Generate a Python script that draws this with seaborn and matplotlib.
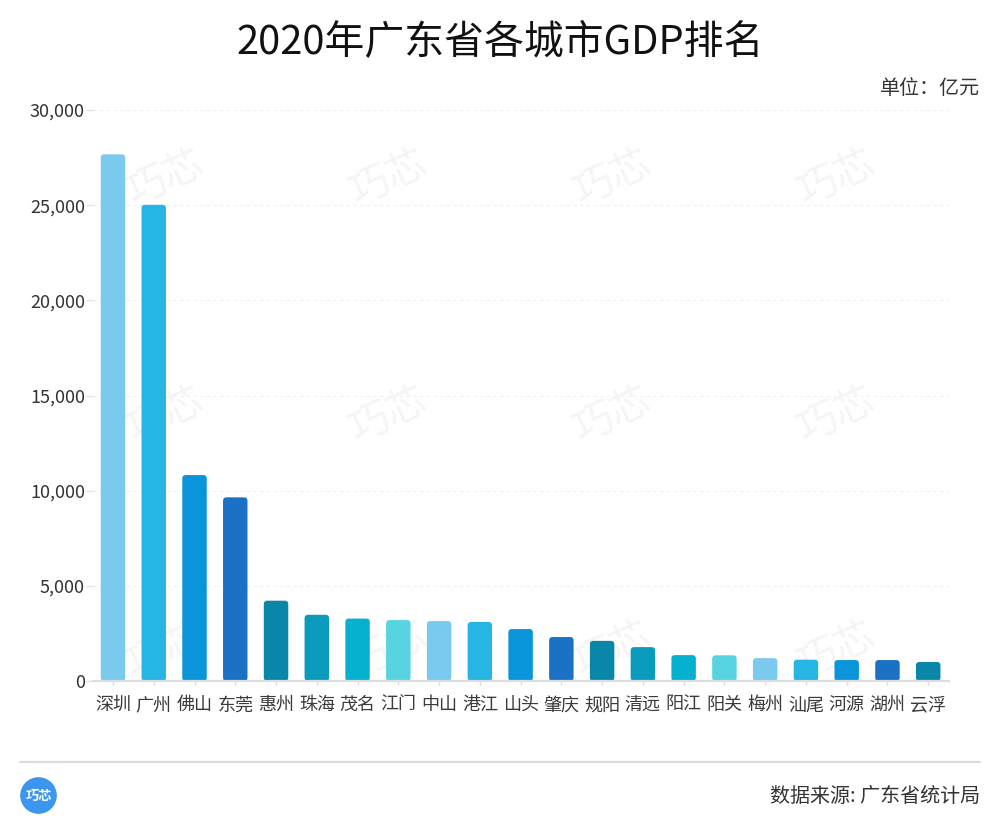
import matplotlib
matplotlib.use('Agg')
import matplotlib.pyplot as plt
import pandas as pd
import seaborn as sns
import matplotlib.ticker as mtick
from matplotlib.patches import FancyBboxPatch, Circle
from matplotlib.lines import Line2D

cities = ['深圳', '广州', '佛山', '东莞', '惠州', '珠海', '茂名', '江门', '中山', '港江', '山头',
          '肇庆', '规阳', '清远', '阳江', '阳关', '梅州', '汕尾', '河源', '湖州', '云浮']
gdp = [27670, 25020, 10820, 9650, 4220, 3480, 3280, 3200, 3150, 3100, 2730,
       2310, 2110, 1780, 1360, 1350, 1200, 1120, 1100, 1100, 1000]
colors = ['#7AC9EE', '#27B5E5', '#0A94DA', '#1B72C4', '#0A86A8', '#0A9ABB', '#06B1CF', '#57D4E0']
yticks = [0, 5000, 10000, 15000, 20000, 25000, 30000]
mark_x = [165, 388, 612, 836]
mark_y = [178, 415, 650]

sns.set_theme(style='white')
plt.rcParams['font.family'] = ['Noto Sans CJK SC', 'DejaVu Sans']

W, H = 1000, 826
fig = plt.figure(figsize=(W / 100, H / 100), dpi=100, facecolor='white')
ax = fig.add_axes([92.6 / W, 1 - 681 / H, 856 / W, 571 / H])

df = pd.DataFrame({'city': cities, 'gdp': gdp})
palette = [colors[i % len(colors)] for i in range(len(cities))]
sns.barplot(data=df, x='city', y='gdp', hue='city', palette=palette, saturation=1,
            width=0.6, legend=False, ax=ax, zorder=3)

# swap the square bars for rounded ones of the same size
rx = 3.5 / 40.76
ry = 3.5 * 30000 / 571
for bar in list(ax.patches):
    box = FancyBboxPatch((bar.get_x(), bar.get_y()), bar.get_width(), bar.get_height(),
                         boxstyle=f'round,pad=0,rounding_size={rx}', mutation_aspect=ry / rx,
                         facecolor=bar.get_facecolor(), edgecolor='none', zorder=3)
    bar.set_visible(False)
    ax.add_patch(box)

ax.set_xlim(-0.5, len(cities) - 0.5)
ax.set_ylim(0, 30000)
ax.set_yticks(yticks)
ax.yaxis.set_major_formatter(mtick.StrMethodFormatter('{x:,.0f}'))
ax.set_xlabel('')
ax.set_ylabel('')
ax.grid(axis='y', color='#F0F0F0', linestyle=(0, (3, 3)), linewidth=0.8, zorder=0)
ax.set_axisbelow(True)
for side in ['top', 'right', 'left']:
    ax.spines[side].set_visible(False)
ax.spines['bottom'].set_color('#DDDDDD')
ax.spines['bottom'].set_linewidth(1.6)
ax.spines['bottom'].set_zorder(4)
ax.tick_params(axis='y', length=5, width=1, color='#E2E2E2', labelsize=13, labelcolor='#333333', pad=0.5, left=True)
ax.tick_params(axis='x', length=3, width=1, color='#DDDDDD', labelsize=13, labelcolor='#3A3A3A', pad=8, bottom=True)


def fx(x):
    return x / W


def fy(y):
    return 1 - y / H


# watermark, under the bars
for my in mark_y:
    for mx in mark_x:
        ax.text(fx(mx), fy(my), '巧芯', fontsize=29, color='#F5F5F6', rotation=24,
                ha='center', va='center', zorder=1, transform=fig.transFigure, clip_on=False)

fig.text(fx(500), fy(43), '2020年广东省各城市GDP排名', fontsize=28.7, color='#111111',
         ha='center', va='center')
fig.text(fx(980), fy(88), '单位：亿元', fontsize=14.4, color='#333333', ha='right', va='center')
fig.text(fx(980), fy(796), '数据来源: 广东省统计局', fontsize=14.45, color='#333333', ha='right', va='center')

fig.add_artist(Line2D([fx(20), fx(980)], [fy(762), fy(762)], color='#DDDDDD', linewidth=1.6))

# logo
logo_ax = fig.add_axes([20 / W, 1 - 814 / H, 37 / W, 37 / H])
logo_ax.set_xlim(-1.05, 1.05)
logo_ax.set_ylim(-1.05, 1.05)
logo_ax.axis('off')
logo_ax.add_patch(Circle((0, 0), 1, color='#3D96EE'))
logo_ax.text(0, 0, '巧芯', color='white', fontsize=9.5, fontweight='bold', ha='center', va='center')

fig.savefig('out.png', dpi=100)
